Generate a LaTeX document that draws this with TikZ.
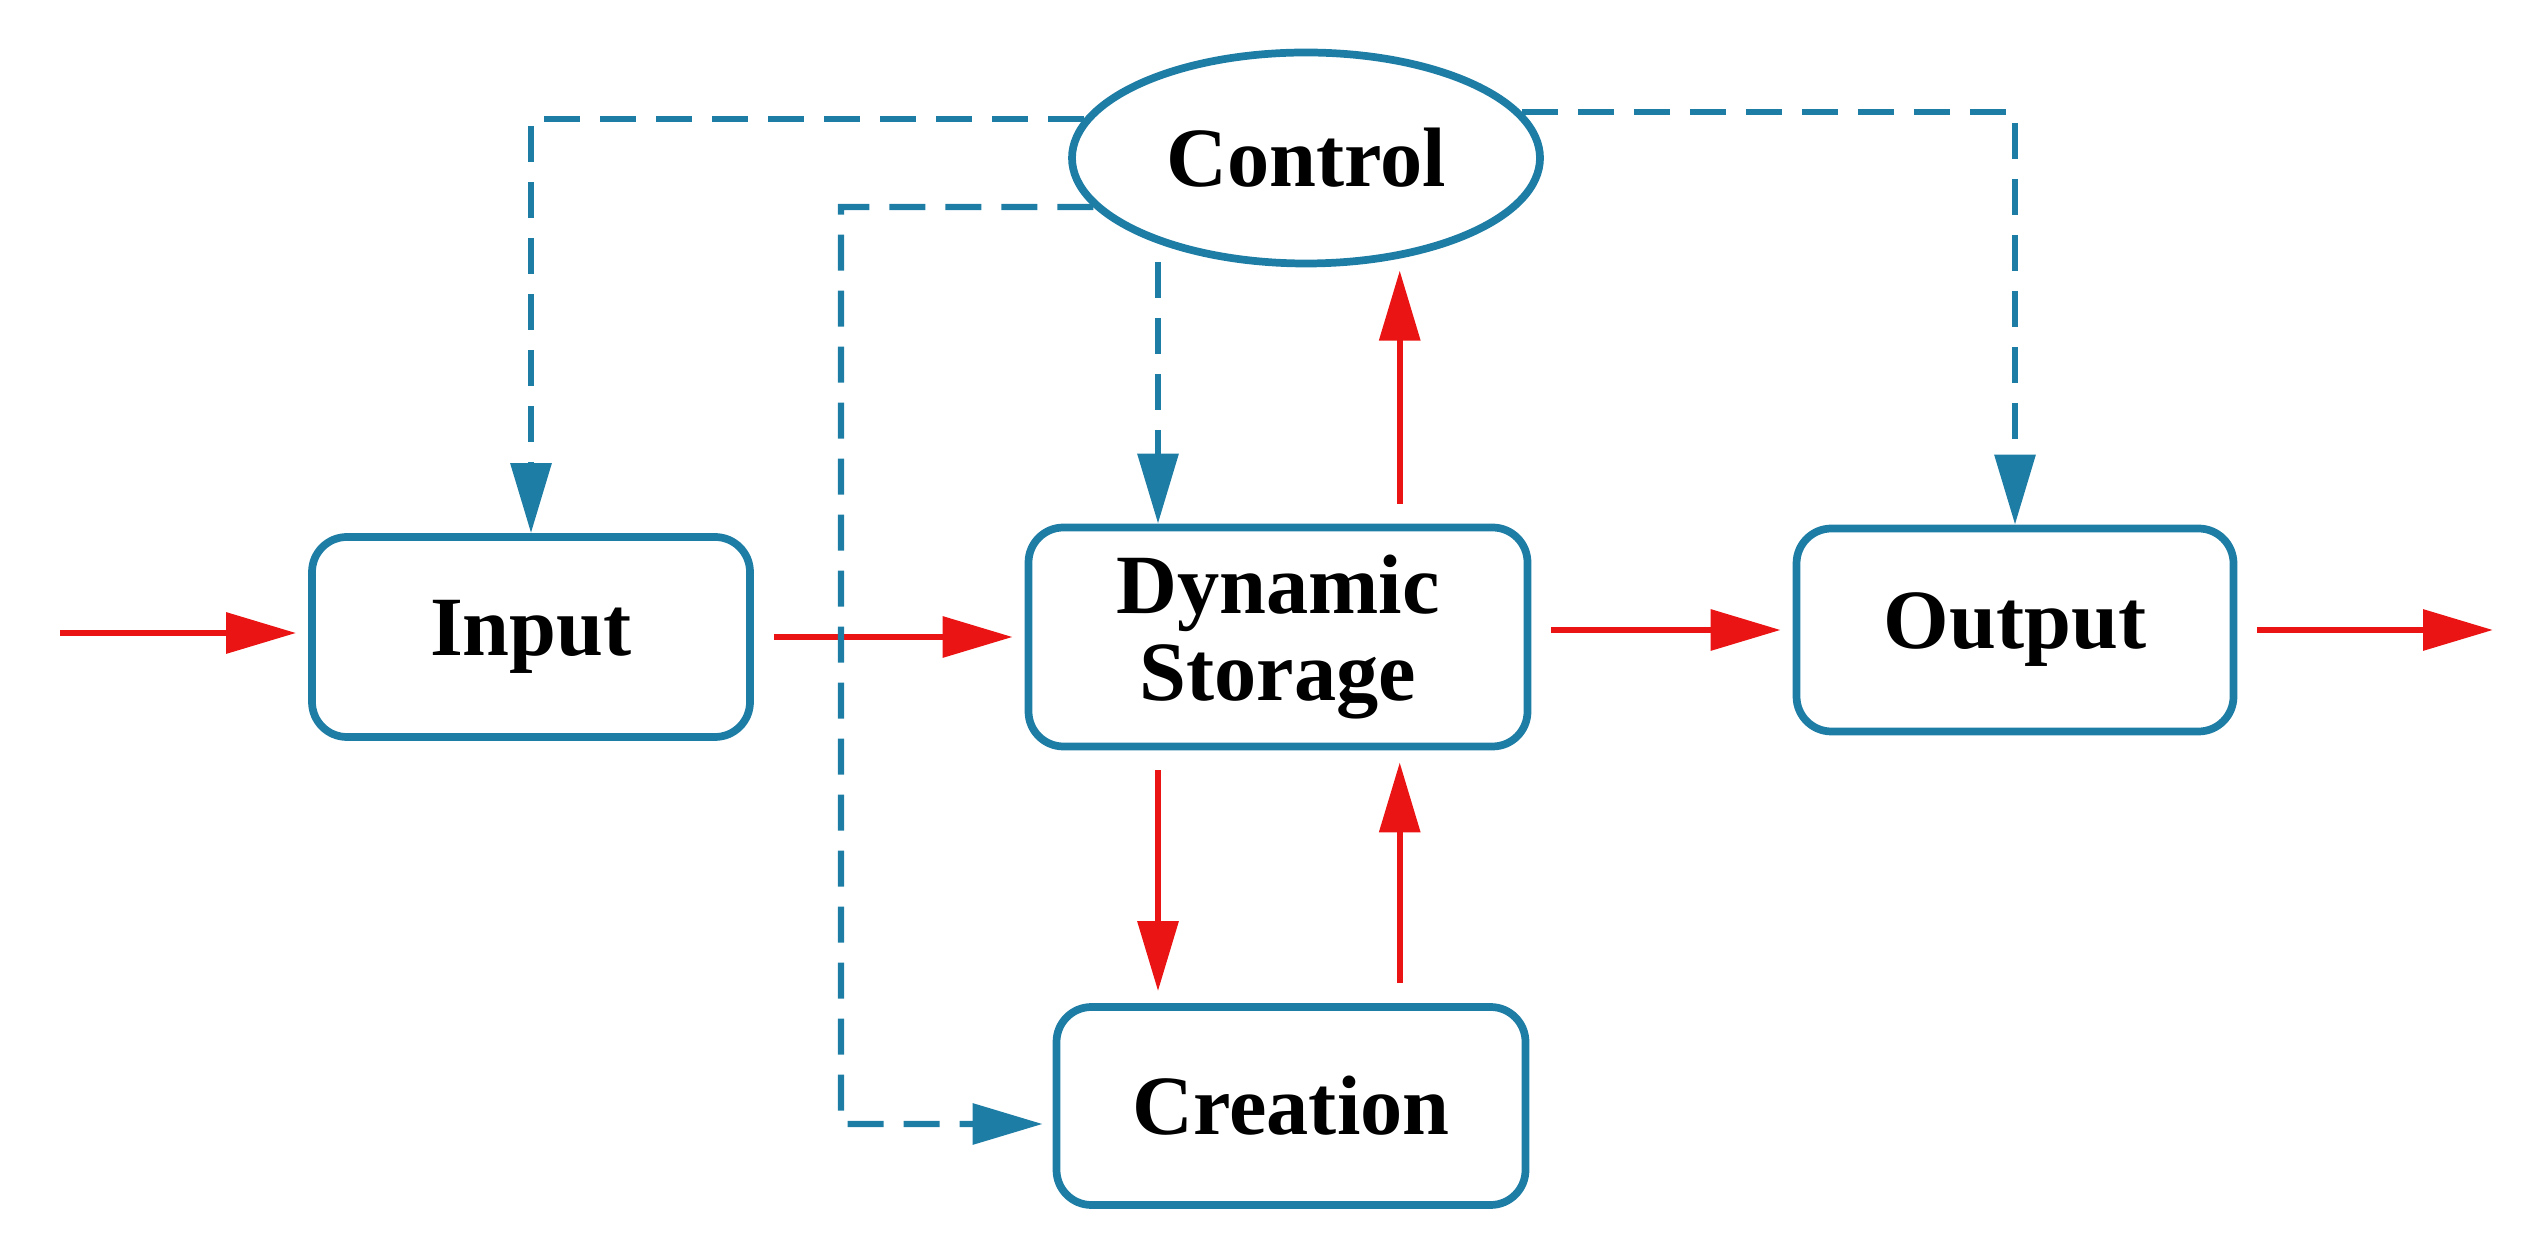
\documentclass[tikz,border=0pt]{standalone}
\usepackage{fontspec}
\setmainfont{Liberation Serif}
\usetikzlibrary{arrows.meta, shapes.geometric, calc}
\definecolor{ctlblue}{RGB}{30,125,165}
\definecolor{flowred}{RGB}{235,20,20}
\begin{document}
\begin{tikzpicture}[
			> = {Triangle[length=0.7cm, width=0.4cm]}, % arrow head style
			box/.style = {draw=ctlblue, line width=2.2pt, rounded corners=0.35cm,
				font=\fontsize{24}{27}\selectfont\bfseries, align=center},
			flow/.style = {->, draw=flowred, line width=1.8pt, shorten <=0.2cm, shorten >=0.12cm},
			ctrl/.style = {->, draw=ctlblue, line width=1.8pt, dash pattern=on 0.36cm off 0.2cm},
		]
		\useasboundingbox (0,0) rectangle (25.46,-12.54);
		\node[box, ellipse, minimum width=4.68cm, minimum height=2.11cm] (ctl) at (13.06,-1.58) {Control};
		\node[box, minimum width=4.38cm, minimum height=2.0cm] (in) at (5.31,-6.37) {Input};
		\node[box, minimum width=4.99cm, minimum height=2.19cm] (ds) at (12.78,-6.37) {Dynamic\\[-2pt]Storage};
		\node[box, minimum width=4.37cm, minimum height=2.03cm] (out) at (20.15,-6.30) {Output};
		\node[box, minimum width=4.69cm, minimum height=1.98cm] (cr) at (12.91,-11.06) {Creation};
		\coordinate (src) at (0.6,-6.33);
		\coordinate (snk) at (24.93,-6.30);
		\coordinate (bend) at (8.41,-11.24);
		\coordinate (tap) at (11.58,-2.62);
		\coordinate (cr-in) at ($(cr.west)+(0,-0.18)$);
		% red flow
		\draw[flow, shorten <=0pt] (src) -- (src -| in.west);
		\draw[flow] (in.east |- ds.west) -- (ds.west);
		\draw[flow] (ds.east |- out.west) -- (out.west);
		\draw[flow, shorten >=0pt] (out.east |- snk) -- (snk);
		\draw[flow] (ds.north -| ctl.-47) -- (ctl.-47);
		\draw[flow] (ds.south -| tap) -- (cr.north -| tap);
		\draw[flow] (cr.north -| ctl.-47) -- (ds.south -| ctl.-47);
		% control
		\draw[ctrl] (ctl.170) -| (in.north);
		\draw[ctrl] (ctl.12) -| (out.north);
		\draw[ctrl] (tap) -- (ds.north -| tap);
		\draw[ctrl] (ctl.193) -| (bend) -- ($(cr-in)+(-0.1,0)$);
\end{tikzpicture}
\end{document}
